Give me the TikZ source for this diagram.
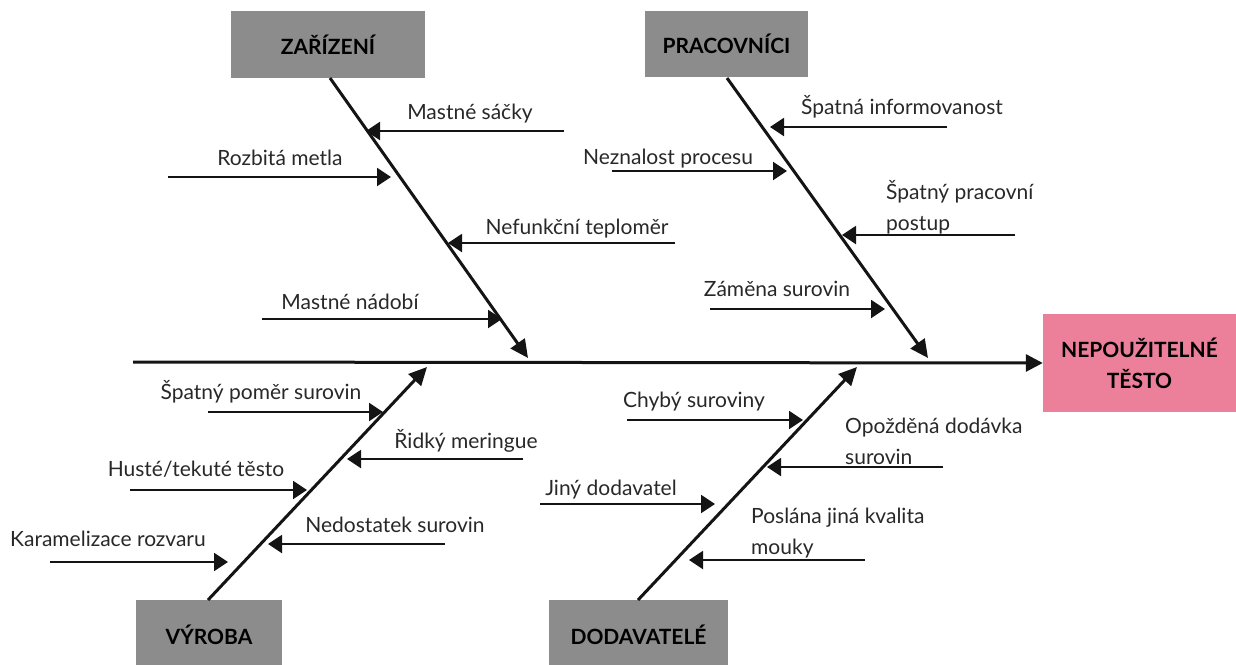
\documentclass[tikz,border=0pt]{standalone}
\usepackage{fontspec}
\setmainfont{Lato}
\usetikzlibrary{arrows.meta}
\definecolor{boxgray}{RGB}{140,140,140}
\definecolor{headpink}{RGB}{236,128,155}
\definecolor{ink}{RGB}{20,20,20}
\definecolor{txt}{RGB}{40,40,40}
\begin{document}
\begin{tikzpicture}[x=1pt,y=-1pt,
  catbox/.style={fill=boxgray, text=black, inner sep=0pt,
    font=\fontsize{21}{24}\selectfont\bfseries},
  headbox/.style={fill=headpink, text=black, inner sep=0pt, align=center,
    font=\fontsize{21}{31}\selectfont\bfseries},
  lbl/.style={text=txt, inner sep=0pt, anchor=base,
    font=\fontsize{21}{31}\selectfont},
  lbl2/.style={lbl, anchor=base west, align=left},
  spine/.style={draw=ink, line width=3pt, -{Triangle[length=17pt,width=17pt]}},
  bone/.style={draw=ink, line width=3pt, -{Triangle[length=18pt,width=17pt]}},
  cause/.style={draw=ink, line width=2pt, -{Triangle[length=14pt,width=18pt]}}]
\useasboundingbox (0,0) rectangle (1236,664);

% effect and category boxes
\node[headbox, minimum width=193pt, minimum height=98pt] (effect) at (1139.5,363) {NEPOUŽITELNÉ\\TĚSTO};
\node[catbox, minimum width=194pt, minimum height=67pt] (zar) at (328,44.5) {ZAŘÍZENÍ};
\node[catbox, minimum width=163pt, minimum height=66pt] (pra) at (726.5,44) {PRACOVNÍCI};
\node[catbox, minimum width=146pt, minimum height=70pt] (vyr) at (209,635) {VÝROBA};
\node[catbox, minimum width=179pt, minimum height=70pt] (dod) at (638.5,635) {DODAVATELÉ};

% spine
\coordinate (tail) at (133,362);
\draw[spine] (tail) -- (effect.west);

% category bones
\coordinate (zarTip) at (528,358);
\coordinate (praTip) at (928,358);
\coordinate (vyrTip) at (427,367);
\coordinate (dodTip) at (857,367);
\coordinate (zarFoot) at (330,78);
\coordinate (praFoot) at (727,78);
\coordinate (vyrFoot) at (208,600);
\coordinate (dodFoot) at (638,600);
\draw[bone] (zarFoot) -- (zarTip);
\draw[bone] (praFoot) -- (praTip);
\draw[bone] (vyrFoot) -- (vyrTip);
\draw[bone] (dodFoot) -- (dodTip);

% cause arrows: name / start x / end x / y
\foreach \n/\sx/\ex/\y in {
    a1/564/366/131, a2/168/391/177, a3/675/448/243, a4/262/502/319,
    b1/947/770/127, b2/612/787/171, b3/1015/842/235, b4/710/885/309,
    c1/208/383/412, c2/523/347/459, c3/130/307/490, c4/445/268/544, c5/50/228/562,
    d1/627/803/420, d2/943/767/467, d3/540/715/504, d4/865/689/560}{
  \coordinate (\n s) at (\sx,\y);
  \coordinate (\n e) at (\ex,\y);
  \draw[cause] (\n s) -- (\n e);
}

% cause labels (two-line labels are anchored on their last line)
\node[lbl] (la1) at (470,119) {Mastné sáčky};
\node[lbl] (la2) at (280,165) {Rozbitá metla};
\node[lbl] (la3) at (577,234) {Nefunkční teploměr};
\node[lbl] (la4) at (350,309) {Mastné nádobí};

\node[lbl] (lb1) at (902,114) {Špatná informovanost};
\node[lbl] (lb2) at (668,164) {Neznalost procesu};
\node[lbl2] (lb3) at (886,230) {Špatný pracovní\\postup};
\node[lbl] (lb4) at (777,296) {Záměna surovin};

\node[lbl] (lc1) at (261,399) {Špatný poměr surovin};
\node[lbl] (lc2) at (466,448) {Řidký meringue};
\node[lbl] (lc3) at (196,476) {Husté/tekuté těsto};
\node[lbl] (lc4) at (395,532) {Nedostatek surovin};
\node[lbl] (lc5) at (108,546) {Karamelizace rozvaru};

\node[lbl] (ld1) at (694,407) {Chybý suroviny};
\node[lbl2] (ld2) at (845,464) {Opožděná dodávka\\surovin};
\node[lbl] (ld3) at (611,495) {Jiný dodavatel};
\node[lbl2] (ld4) at (751,554) {Poslána jiná kvalita\\mouky};
\end{tikzpicture}
\end{document}
